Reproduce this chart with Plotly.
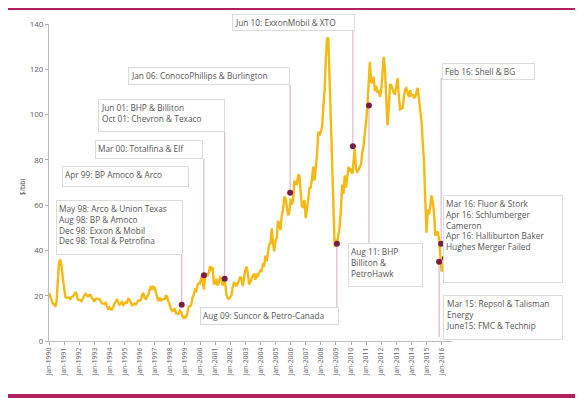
import pandas as pd
import plotly.graph_objects as go

# Monthly Brent price, $/bbl, Jan-1990 .. Apr-2016
p1990 = [21.2, 19.8, 18.4, 16.6, 16.3, 15.1, 17.2, 27.2, 34.9, 36.0, 32.9, 27.8]
p1991 = [23.6, 19.5, 19.1, 19.2, 19.2, 18.3, 19.4, 19.7, 20.3, 21.7, 20.6, 18.2]
p1992 = [18.2, 18.0, 17.6, 19.0, 19.8, 21.1, 20.2, 19.6, 20.2, 20.2, 19.1, 18.2]
p1993 = [17.4, 18.6, 18.8, 18.6, 18.5, 17.6, 16.6, 16.6, 16.3, 16.9, 15.4, 13.9]
p1994 = [14.8, 14.0, 13.9, 15.3, 16.3, 17.4, 18.2, 16.9, 16.0, 16.4, 17.6, 15.9]
p1995 = [16.6, 17.1, 16.9, 18.6, 18.3, 17.3, 15.8, 16.2, 16.5, 16.1, 16.8, 17.9]
p1996 = [17.9, 18.0, 20.3, 21.3, 19.1, 18.6, 19.6, 20.5, 22.5, 24.3, 22.6, 23.9]
p1997 = [23.5, 20.8, 19.2, 17.6, 19.2, 17.6, 18.5, 18.5, 18.6, 20.2, 19.2, 17.4]
p1998 = [15.1, 14.1, 13.2, 13.4, 14.4, 12.2, 12.1, 12.0, 13.4, 12.9, 11.0, 9.8]
p1999 = [11.1, 10.3, 12.5, 15.3, 15.3, 15.9, 19.0, 20.3, 22.6, 22.1, 24.6, 25.5]
p2000 = [25.5, 27.8, 27.5, 22.8, 27.7, 29.8, 28.7, 30.2, 33.1, 31.0, 32.6, 25.0]
p2001 = [25.6, 27.5, 24.5, 25.7, 28.1, 27.6, 24.5, 25.7, 25.6, 20.5, 18.8, 18.6]
p2002 = [19.4, 20.3, 23.7, 25.7, 25.4, 24.1, 25.7, 26.6, 28.4, 27.5, 24.3, 28.0]
p2003 = [31.2, 32.8, 30.3, 25.0, 25.8, 27.6, 28.4, 29.8, 27.1, 29.6, 28.8, 29.8]
p2004 = [31.2, 30.9, 33.8, 33.4, 37.7, 35.2, 38.2, 42.7, 43.2, 49.8, 43.1, 39.6]
p2005 = [44.5, 45.5, 53.1, 51.9, 49.0, 55.6, 57.9, 63.8, 63.0, 58.5, 55.5, 56.9]
p2006 = [62.9, 60.2, 62.1, 70.3, 70.0, 68.9, 73.5, 73.0, 63.8, 59.4, 59.1, 62.3]
p2007 = [54.3, 57.8, 62.1, 67.5, 67.8, 71.3, 77.0, 70.8, 77.1, 82.3, 92.4, 90.9]
p2008 = [92.2, 94.9, 103.3, 110.4, 124.6, 133.5, 133.9, 113.4, 99.1, 72.8, 53.2, 41.6]
p2009 = [44.9, 43.2, 46.8, 50.9, 58.0, 69.1, 65.0, 73.1, 67.7, 73.2, 77.0, 74.7]
p2010 = [76.2, 73.8, 78.8, 84.8, 75.9, 74.8, 75.6, 77.1, 78.2, 83.5, 86.1, 92.0]
p2011 = [96.5, 104.0, 114.6, 123.3, 114.5, 113.9, 116.7, 110.4, 112.8, 109.6, 110.8, 107.9]
p2012 = [110.7, 119.3, 125.5, 119.8, 110.3, 95.2, 102.6, 113.4, 113.0, 111.5, 109.5, 109.2]
p2013 = [112.3, 116.1, 108.5, 102.3, 102.6, 102.9, 107.7, 111.0, 111.6, 109.1, 107.8, 110.8]
p2014 = [108.1, 108.9, 107.5, 107.8, 109.5, 111.8, 106.8, 101.6, 97.1, 87.4, 79.4, 62.3]
p2015 = [47.8, 58.1, 55.9, 59.5, 64.3, 61.5, 56.6, 46.5, 47.6, 48.4, 44.3, 38.0]
p2016 = [30.7, 32.2, 38.2, 41.6]

price = (p1990 + p1991 + p1992 + p1993 + p1994 + p1995 + p1996 + p1997 + p1998
         + p1999 + p2000 + p2001 + p2002 + p2003 + p2004 + p2005 + p2006 + p2007
         + p2008 + p2009 + p2010 + p2011 + p2012 + p2013 + p2014 + p2015 + p2016)
months = pd.date_range("1990-01-01", periods=len(price), freq="MS")

# Deal markers (date, $/bbl)
deal_dates = ["1998-10-15", "2000-04-05", "2001-08-20", "2005-12-20", "2009-01-25",
              "2010-02-15", "2011-03-10", "2015-12-20", "2016-03-20", "2015-11-01"]
deal_values = [16, 29, 27.5, 65.5, 43, 86, 104, 43, 36.5, 35]

# Annotation texts
box_texts = [
    "Jun 10: ExxonMobil & XTO",
    "Jan 06: ConocoPhillips & Burlington",
    "Jun 01: BHP & Billiton<br>Oct 01: Chevron & Texaco",
    "Mar 00: Totalfina & Elf",
    "Apr 99: BP Amoco & Arco",
    "May 98: Arco & Union Texas<br>Aug 98: BP & Amoco<br>Dec 98: Exxon & Mobil<br>Dec 98: Total & Petrofina",
    "Aug 09: Suncor & Petro-Canada",
    "Aug 11: BHP<br>Billiton &<br>PetroHawk",
    "Feb 16: Shell & BG",
    "Mar 16: Fluor & Stork<br>Apr 16: Schlumberger<br>Cameron<br>Apr 16: Halliburton Baker<br>Hughes Merger Failed",
    "Mar 15: Repsol & Talisman<br>Energy<br>June15: FMC & Technip",
]

# Reference canvas geometry (page pixels); the page body has an 8px margin
W, H = 583, 399
OFF = 8
PL, PR, PT, PB = 49, 452, 24, 341
YMAX = 140

def pxx(px):
    return (px - PL) / (PR - PL)

def pxy(py):
    return (PB - py) / (PB - PT)

def yval(py):
    return (PB - py) / (PB - PT) * YMAX

# box pixel rectangles (left, top, right, bottom)
boxes = [
    (232, 14, 355, 30),
    (128, 67, 290, 85),
    (98, 99, 225, 132),
    (95, 140, 203, 159),
    (62, 166, 189, 187),
    (56, 200, 183, 255),
    (200, 307, 339, 325),
    (348, 243, 423, 287),
    (442, 63, 535, 78),
    (443, 195, 563, 283),
    (443, 295, 563, 340),
]

# connectors: (deal index, pixel y of the box end)
connectors = [(0, 200), (1, 159), (2, 132), (3, 85), (4, 307), (5, 30), (6, 243), (7, 78), (9, 337)]

fig = go.Figure()
fig.add_trace(go.Scatter(x=months, y=price, mode="lines",
                         line=dict(color="#F5B914", width=2.4), showlegend=False,
                         hoverinfo="skip"))

shapes = []
for idx, py in connectors:
    shapes.append(dict(type="line", xref="x", yref="y",
                       x0=deal_dates[idx], x1=deal_dates[idx],
                       y0=deal_values[idx], y1=yval(py),
                       line=dict(color="#D8AAC2", width=1), layer="below"))

fig.add_trace(go.Scatter(x=deal_dates, y=deal_values, mode="markers",
                         marker=dict(color="#7A1C46", size=6), showlegend=False,
                         cliponaxis=False))

# magenta borders top & bottom
shapes.append(dict(type="rect", xref="paper", yref="paper",
                   x0=pxx(0), x1=pxx(W), y0=pxy(OFF + 2), y1=pxy(OFF),
                   fillcolor="#B2215E", line=dict(width=0)))
shapes.append(dict(type="rect", xref="paper", yref="paper",
                   x0=pxx(0), x1=pxx(W), y0=pxy(398), y1=pxy(394),
                   fillcolor="#B2215E", line=dict(width=0)))

FS = 8.3
PAD = 2
annotations = []
for (l, t, r, b), txt in zip(boxes, box_texts):
    nlines = txt.count("<br>") + 1
    natural_h = nlines * FS * 1.3 + 1
    box_h = b - t - 2 * PAD - 2
    ann = dict(
        xref="paper", yref="paper", x=pxx(l), y=pxy(t),
        xanchor="left", yanchor="top", text=txt, showarrow=False,
        align="left", valign="top",
        width=r - l - 2 * PAD - 2,
        bgcolor="rgba(255,255,255,0.95)", bordercolor="#DCDCDC", borderwidth=1,
        borderpad=PAD,
        font=dict(family="Open Sans, Liberation Sans, sans-serif", size=FS, color="#555555"),
    )
    if box_h > natural_h:
        ann["height"] = box_h
    annotations.append(ann)

annotations.append(dict(xref="paper", yref="paper", x=pxx(15), y=pxy(187),
                        text="$/bbl", showarrow=False, textangle=-90,
                        font=dict(family="Open Sans, sans-serif", size=7, color="#555555")))

fig.update_layout(
    width=W - OFF, height=H - OFF,
    margin=dict(l=PL - OFF, r=W - PR, t=PT - OFF, b=H - PB),
    paper_bgcolor="white", plot_bgcolor="white",
    shapes=shapes, annotations=annotations,
    xaxis=dict(type="date", range=["1990-01-01", "2016-09-08"],
               tick0="1990-01-01", dtick="M12", tickformat="%b-%Y",
               tickangle=-90, ticks="outside", ticklen=3, tickcolor="#AAAAAA",
               showline=True, linecolor="#BBBBBB", linewidth=1,
               showgrid=False, zeroline=False, automargin=False,
               tickfont=dict(family="Open Sans, sans-serif", size=6.8, color="#606060")),
    yaxis=dict(range=[0, YMAX], dtick=20, ticks="outside", ticklen=3,
               tickcolor="#AAAAAA", showline=True, linecolor="#BBBBBB", linewidth=1,
               showgrid=False, zeroline=False, automargin=False,
               tickfont=dict(family="Open Sans, sans-serif", size=8, color="#606060")),
)

fig.write_html("out.html")
